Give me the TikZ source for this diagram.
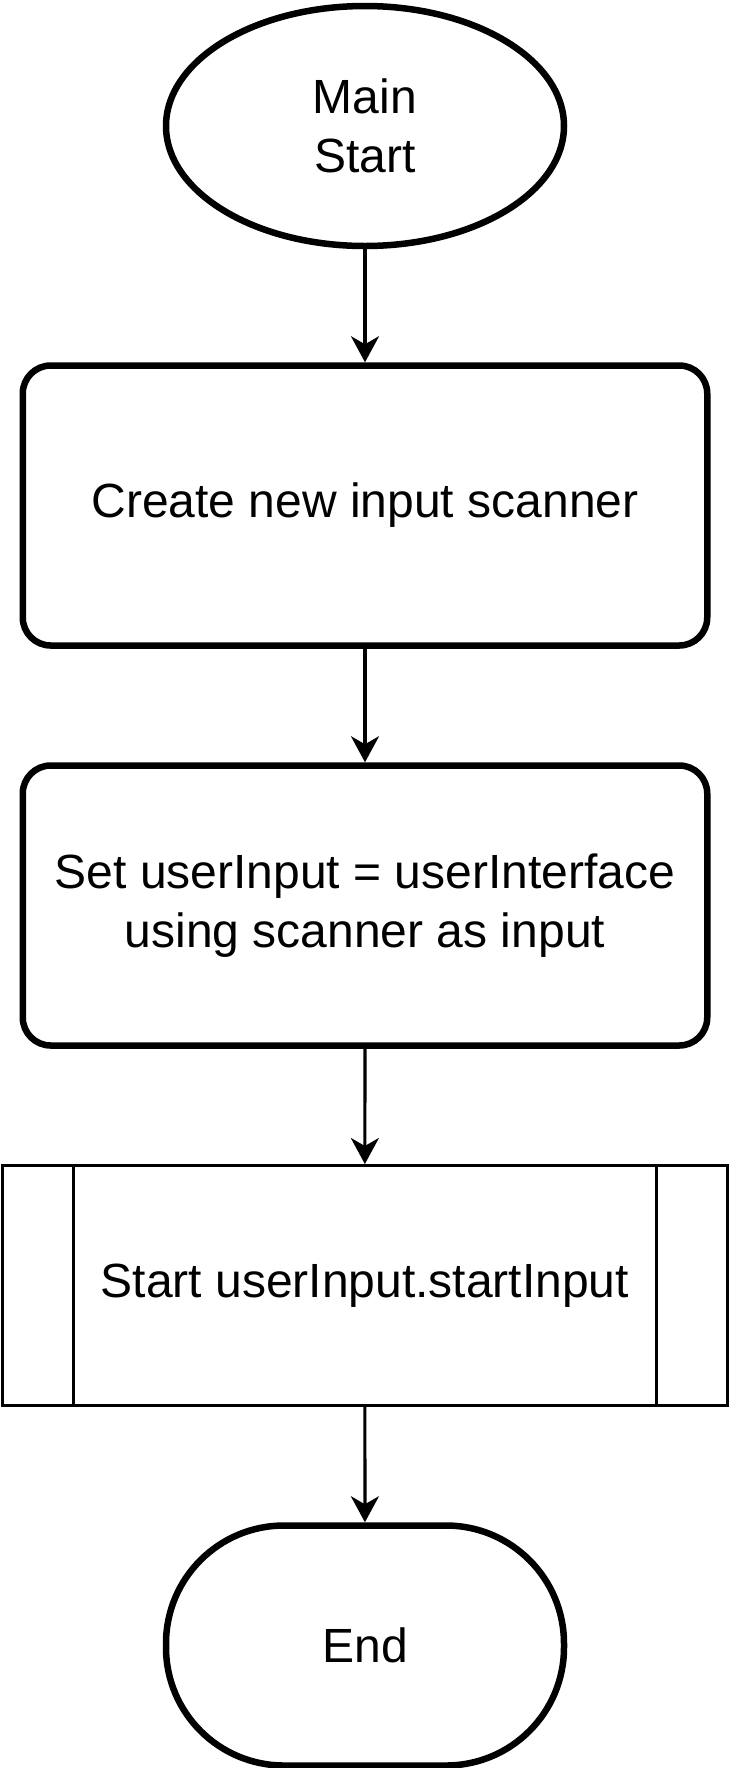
\documentclass[tikz,border=0pt]{standalone}
\usepackage{fontspec}
\setmainfont{Liberation Sans}
\usetikzlibrary{shapes.geometric,arrows.meta,calc}
\tikzset{>={Stealth[length=13pt,width=14pt,inset=4pt]}}
\tikzset{
  startoval/.style={draw,ellipse,line width=3.25pt,minimum width=199pt,minimum height=120pt,align=center,inner sep=0pt},
  process/.style={draw,rectangle,rounded corners=14pt,line width=3.25pt,minimum width=342.25pt,minimum height=140pt,align=center,inner sep=0pt},
  subproc/.style={draw,rectangle,line width=1.5pt,minimum width=362.25pt,minimum height=120pt,align=center,inner sep=0pt},
  endoval/.style={draw,rectangle,rounded corners=59pt,line width=3.25pt,minimum width=199pt,minimum height=120pt,inner sep=0pt},
  flow/.style={->,line width=1.6pt},
}

\begin{document}
\begin{tikzpicture}[x=1pt,y=1pt,font=\fontsize{24}{29.3}\selectfont]
    \useasboundingbox (0,0) rectangle (366,-884);
    % flowchart nodes, top to bottom
    \node[startoval] (mainstart) at (182.5,-63) {Main\\Start};
    \node[process] (scannerbox) at (182.5,-252.75) {Create new input scanner};
    \node[process] (inputbox) at (182.5,-452.75) {Set userInput = userInterface\\using scanner as input};
    \node[subproc] (callbox) at (182.4,-642.75) {Start userInput.startInput};
    \draw[line width=1.5pt] ($(callbox.north west)+(36,0)$) -- ($(callbox.south west)+(36,0)$);
    \draw[line width=1.5pt] ($(callbox.north east)+(-36,0)$) -- ($(callbox.south east)+(-36,0)$);
    \node[endoval] (endnode) at (182.5,-822.75) {End};
    % connectors
    \draw[flow] (mainstart) -- (scannerbox);
    \draw[flow] (scannerbox) -- (inputbox);
    \draw[flow] (inputbox) -- (callbox);
    \draw[flow] (callbox) -- (endnode);
  \end{tikzpicture}
\end{document}
